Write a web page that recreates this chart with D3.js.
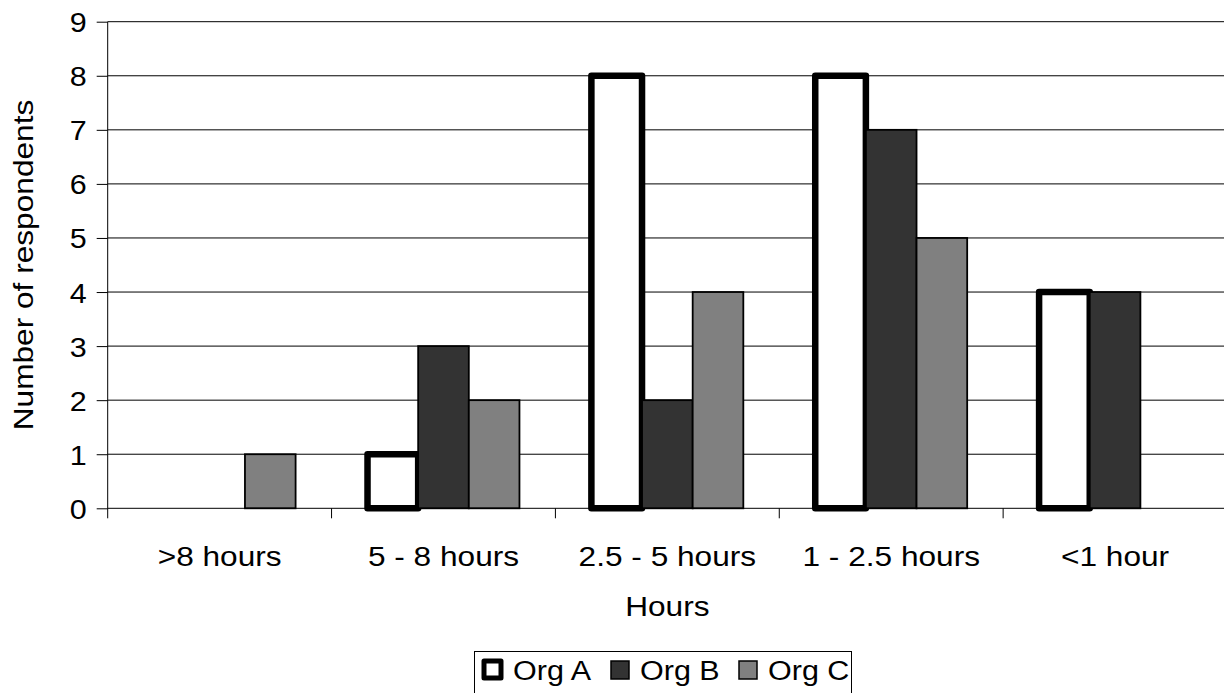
<!DOCTYPE html>
<html>
<head>
<meta charset="utf-8">
<script src="https://cdn.jsdelivr.net/npm/d3@7"></script>
<style>
    body { margin: 0; background: #fff; }
    svg { display: block; }
    text { font-family: "Liberation Sans", Arial, sans-serif; fill: #000; }
</style>
</head>
<body>
<div id="graph"></div>
<script>
// Chart data
const categories = [">8 hours", "5 - 8 hours", "2.5 - 5 hours", "1 - 2.5 hours", "<1 hour"];
const seriesNames = ["Org A", "Org B", "Org C"];
const orgA = [0, 1, 8, 8, 4];
const orgB = [0, 3, 2, 7, 4];
const orgC = [1, 2, 4, 5, 0];
const yTicks = [0, 1, 2, 3, 4, 5, 6, 7, 8, 9];

document.addEventListener('DOMContentLoaded', function() {
    const width = 1224, height = 693;
    const left = 107.7, right = 1227, top = 21.7, bottom = 508.3;
    const stretch = 1.13;  // text in the original is a bit wide

    const seriesValues = [orgA, orgB, orgC];
    const fills = ["#ffffff", "#333333", "#808080"];

    let svg = d3.select("#graph").append("svg")
        .attr("width", width)
        .attr("height", height);

    let x = d3.scaleBand()
        .domain(categories)
        .range([left, right]);

    const barWidth = x.bandwidth() / 4.42;
    let xSub = d3.scaleBand()
        .domain(seriesNames)
        .range([0, barWidth * 3]);
    const groupOffset = (x.bandwidth() - barWidth * 3) / 2;

    let y = d3.scaleLinear()
        .domain([0, 9])
        .range([bottom, top]);

    // Gridlines
    svg.append("g")
        .selectAll("line")
        .data(yTicks.filter(d => d > 0))
        .enter().append("line")
        .attr("x1", left)
        .attr("x2", right)
        .attr("y1", d => y(d))
        .attr("y2", d => y(d))
        .attr("stroke", "#000")
        .attr("stroke-width", 1);

    // Bars
    const barData = [];
    categories.forEach((c, i) => {
        seriesNames.forEach((s, j) => {
            barData.push({ cat: c, series: s, value: seriesValues[j][i], idx: j });
        });
    });

    svg.append("g")
        .selectAll("rect")
        .data(barData.filter(d => d.value > 0))
        .enter().append("rect")
        .attr("x", d => x(d.cat) + groupOffset + xSub(d.series))
        .attr("y", d => y(d.value))
        .attr("width", barWidth)
        .attr("height", d => y(0) - y(d.value))
        .attr("fill", d => fills[d.idx])
        .attr("stroke", "#000")
        .attr("stroke-width", d => d.idx === 0 ? 6.5 : 1.8)
        .attr("stroke-linejoin", d => d.idx === 0 ? "round" : "miter");

    // Y axis
    let yAxis = d3.axisLeft(y)
        .tickValues(yTicks)
        .tickSize(11)
        .tickPadding(0)
        .tickFormat(d3.format("d"));

    let yg = svg.append("g")
        .attr("transform", `translate(${left},0)`)
        .call(yAxis);
    yg.select(".domain")
        .attr("d", `M0,${top}V${bottom + 10}`)
        .attr("stroke", "#000");
    yg.selectAll(".tick line").attr("stroke", "#000");
    yg.selectAll(".tick text")
        .attr("x", null)
        .attr("dy", null)
        .attr("font-size", 27)
        .attr("text-anchor", "end")
        .attr("transform", `translate(-21,10) scale(${stretch},1)`);

    // X axis
    let xAxis = d3.axisBottom(x)
        .tickSize(0)
        .tickSizeOuter(0)
        .tickPadding(0);

    let xg = svg.append("g")
        .attr("transform", `translate(0,${bottom})`)
        .call(xAxis);
    xg.select(".domain")
        .attr("d", `M${left},0H${right}`)
        .attr("stroke", "#000");
    xg.selectAll(".tick text")
        .attr("y", null)
        .attr("dy", null)
        .attr("font-size", 28)
        .attr("transform", `translate(0,58) scale(${stretch},1)`);

    // Category separator ticks
    xg.append("g")
        .selectAll("line")
        .data(categories.slice(1))
        .enter().append("line")
        .attr("x1", d => x(d))
        .attr("x2", d => x(d))
        .attr("y1", 0)
        .attr("y2", 10)
        .attr("stroke", "#000");

    // Axis titles
    svg.append("text")
        .attr("text-anchor", "middle")
        .attr("font-size", 28)
        .attr("transform", `translate(${(left + right) / 2},616) scale(${stretch},1)`)
        .text("Hours");

    svg.append("text")
        .attr("text-anchor", "middle")
        .attr("font-size", 28)
        .attr("transform", `translate(33,${(top + bottom) / 2}) rotate(-90) scale(${stretch},1)`)
        .text("Number of respondents");

    // Legend
    let legend = svg.append("g");
    legend.append("rect")
        .attr("x", 474.5)
        .attr("y", 651.5)
        .attr("width", 377)
        .attr("height", 60)
        .attr("fill", "none")
        .attr("stroke", "#000")
        .attr("stroke-width", 1);

    const legendX = [484, 611, 739];
    seriesNames.forEach((s, j) => {
        legend.append("rect")
            .attr("x", legendX[j])
            .attr("y", 661)
            .attr("width", j === 0 ? 17 : 18)
            .attr("height", j === 0 ? 17 : 18)
            .attr("fill", fills[j])
            .attr("stroke", "#000")
            .attr("stroke-width", j === 0 ? 5 : 1.5)
            .attr("stroke-linejoin", j === 0 ? "round" : "miter");
        legend.append("text")
            .attr("font-size", 27)
            .attr("transform", `translate(${legendX[j] + 29},680) scale(${stretch},1)`)
            .text(s);
    });
});
</script>
</body>
</html>
